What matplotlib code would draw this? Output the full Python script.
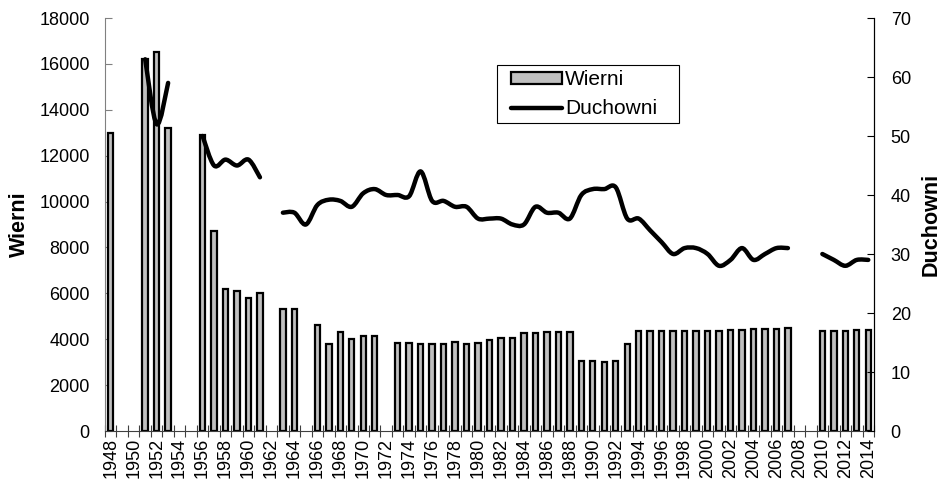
import numpy as np
import matplotlib
matplotlib.use('Agg')
from matplotlib import pyplot as plt
from matplotlib.path import Path
from matplotlib.patches import PathPatch, Rectangle
from matplotlib.lines import Line2D

plt.rcParams['font.family'] = ['Liberation Sans', 'DejaVu Sans']

years = list(range(1948, 2015))

# Wierni (bars), None = no data
wierni = [13000, None, None, 16200, 16500, 13200, None, None,
          12900, 8700, 6200, 6100, 5800, 6000, None, 5300,
          5300, None, 4600, 3800, 4300, 4000, 4150, 4150,
          None, 3850, 3850, 3800, 3800, 3800, 3900, 3800,
          3850, 3950, 4050, 4050, 4250, 4250, 4300, 4300,
          4300, 3050, 3050, 3000, 3050, 3800, 4350, 4350,
          4350, 4350, 4350, 4350, 4380, 4350, 4400, 4400,
          4430, 4440, 4460, 4500, None, None, 4370, 4370,
          4370, 4400, 4410]

# Duchowni (line)
duchowni = [None, None, None, 63, 52, 59, None, None,
            50, 45, 46, 45, 46, 43, None, 37,
            37, 35, 38.3, 39.2, 39, 38, 40.3, 41,
            40, 40, 39.8, 44, 39, 39, 38, 38,
            36, 36, 36, 35, 35, 38, 37, 37,
            36, 40, 41, 41, 41.3, 36, 36, 34,
            32, 30, 31, 31, 30, 28, 29, 31,
            29, 30, 31, 31, None, None, 30, 29,
            28, 29, 29]

x = np.arange(len(years))

W, H = 944, 482
fig = plt.figure(figsize=(W / 100, H / 100), dpi=100)
ax1 = fig.add_axes([105 / W, 1 - 431 / H, (874 - 105) / W, (431 - 18) / H])
ax2 = ax1.twinx()

#bars
bx = [i for i, v in enumerate(wierni) if v is not None]
bv = [v for v in wierni if v is not None]
bars = ax1.bar(bx, bv, width=0.47, color='#c0c0c0', edgecolor='black',
               linewidth=1.6, label='Wierni', zorder=2)

#smoothed line, drawn segment by segment (breaks at missing years)
def add_seg(seg, verts, codes):
    p = np.array(seg, dtype=float)
    n = len(p)
    verts.append(p[0]); codes.append(Path.MOVETO)
    for i in range(n - 1):
        p0 = p[i - 1] if i > 0 else p[i]
        p3 = p[i + 2] if i + 2 < n else p[i + 1]
        c1 = p[i] + (p[i + 1] - p0) / 6
        c2 = p[i + 1] - (p3 - p[i]) / 6
        verts += [c1, c2, p[i + 1]]
        codes += [Path.CURVE4] * 3

def smooth_segments(xs, ys):
    verts, codes = [], []
    seg = []
    for xi, yi in zip(xs, ys):
        if yi is None:
            if seg:
                add_seg(seg, verts, codes)
            seg = []
        else:
            seg.append((xi, yi))
    if seg:
        add_seg(seg, verts, codes)
    return Path(verts, codes)

path = smooth_segments(x, duchowni)
ax2.add_patch(PathPatch(path, facecolor='none', edgecolor='black', lw=3.2,
                        capstyle='round', joinstyle='round', zorder=3))

#axes format
ax1.set_xlim(-0.5, len(years) - 0.5)
ax1.set_ylim(0, 18000)
ax1.set_yticks(range(0, 18001, 2000))
ax2.set_ylim(0, 70)
ax2.set_yticks(range(0, 71, 10))

ax1.set_xticks(x[::2])
ax1.set_xticklabels([str(y) for y in years[::2]], rotation=90)
ax1.set_xticks(np.arange(-0.5, len(years), 1), minor=True)
ax1.tick_params(axis='x', which='major', length=0, pad=5, labelsize=13)
ax1.tick_params(axis='x', which='minor', direction='inout', length=8,
                width=0.8, color='#404040')
ax1.tick_params(axis='y', direction='in', length=5, labelsize=13, pad=11,
                color='#808080')
ax2.tick_params(axis='y', direction='in', length=5, labelsize=13, pad=12,
                color='black')

for ax in (ax1, ax2):
    ax.spines['top'].set_visible(False)
ax1.spines['left'].set_color('#808080')
ax1.spines['bottom'].set_color('#404040')
ax2.spines['left'].set_visible(False)
ax2.spines['bottom'].set_visible(False)
ax2.spines['right'].set_color('black')

ax1.set_ylabel('Wierni', fontsize=15.5, fontweight='bold', labelpad=7)
ax2.set_ylabel('Duchowni', fontsize=15.5, fontweight='bold', labelpad=7)

#legend: frame drawn separately so it can be wider than the entries
frame = Rectangle((497 / W, 1 - 123 / H), 182 / W, 58 / H,
                  transform=fig.transFigure, facecolor='white',
                  edgecolor='black', lw=0.8, zorder=4, clip_on=False)
ax2.add_artist(frame)
line_proxy = Line2D([], [], color='black', lw=3.2, solid_capstyle='round')
leg = ax2.legend([bars, line_proxy], ['Wierni', 'Duchowni'],
                 loc='upper left', bbox_to_anchor=(511 / W, 1 - 70 / H),
                 bbox_transform=fig.transFigure, fontsize=15, frameon=False,
                 handlelength=2.45, handleheight=0.5, handletextpad=0.15,
                 borderpad=0, labelspacing=0.5, borderaxespad=0)
leg.set_zorder(6)

fig.savefig('out.png', dpi=100)
